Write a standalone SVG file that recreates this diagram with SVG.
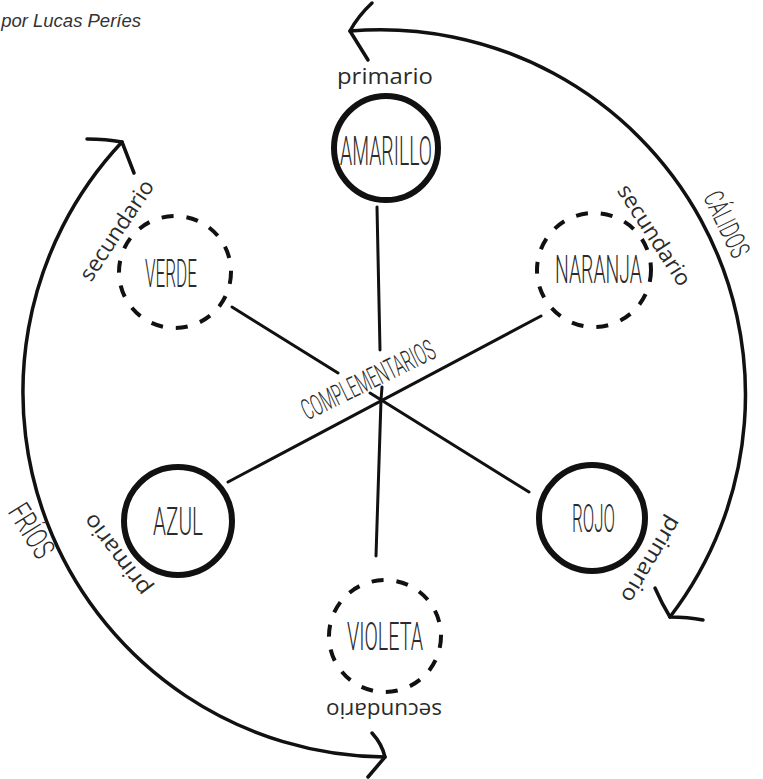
<svg xmlns="http://www.w3.org/2000/svg" width="763" height="779" viewBox="0 0 763 779">
<style>
.solid{fill:none;stroke:#111;stroke-width:6}
.dashed{fill:none;stroke:#111;stroke-width:4;stroke-dasharray:12 13}
.name{font-family:Roboto,"Liberation Sans",sans-serif;font-weight:300;font-size:38px;fill:#2b2b2b}
.lab{font-family:"Open Sans","Liberation Sans",sans-serif;font-size:22px;fill:#2b2b2b}
.ln{fill:none;stroke:#111;stroke-width:3;stroke-linecap:round;stroke-linejoin:round}
.arc{fill:none;stroke:#111;stroke-width:3.5;stroke-linecap:round;stroke-linejoin:round}
.credit{font-family:"Liberation Sans",Arial,sans-serif;font-style:italic;font-size:18.5px;fill:#333}
</style>
<rect width="763" height="779" fill="#fff"/>
<text class="credit" x="141" y="27" text-anchor="end">por Lucas Períes</text>

<g id="connectors">
  <path class="ln" d="M377 207 L380 350"/>
  <path class="ln" d="M382 387 L381 400 L376 556"/>
  <path class="ln" d="M232 307 L338 373"/>
  <path class="ln" d="M370 393 L529 492"/>
  <path class="ln" d="M541 316 L228 482"/>
  <path class="arc" d="M350 31 A365 365 0 0 1 670 617"/>
  <path class="arc" d="M372 3 Q358 16 350 31 L368 60"/>
  <path class="arc" d="M655 588 Q662 604 670 617 Q688 617 703 620"/>
  <path class="arc" d="M122 142 A365 365 0 0 0 385 757"/>
  <path class="arc" d="M87 139 Q106 139 122 142 L134 173"/>
  <path class="arc" d="M372 733 Q382 744 385 757 L368 777"/>
  <text class="name" style="font-size:28px" transform="translate(727,224) rotate(64)" x="-35" y="10" textLength="70" lengthAdjust="spacingAndGlyphs">CÁLIDOS</text>
  <text class="name" style="font-size:31px" transform="translate(31,531) rotate(58)" x="-29" y="10" textLength="58" lengthAdjust="spacingAndGlyphs">FRÍOS</text>
  <text class="name" style="font-size:29px" transform="translate(372,389) rotate(-26)" x="-72" y="0" textLength="145" lengthAdjust="spacingAndGlyphs">COMPLEMENTARIOS</text>
</g>

<g id="node-amarillo">
  <circle class="solid" cx="386" cy="148" r="52"/>
  <text class="name" style="font-size:41px" x="340" y="165" textLength="92" lengthAdjust="spacingAndGlyphs">AMARILLO</text>
  <text class="lab" transform="translate(385,78)" x="-48" y="6" textLength="96" lengthAdjust="spacingAndGlyphs">primario</text>
</g>
<g id="node-verde">
  <circle class="dashed" cx="175" cy="272" r="56"/>
  <text class="name" x="145" y="287" textLength="52" lengthAdjust="spacingAndGlyphs">VERDE</text>
  <text class="lab" transform="translate(118,231) rotate(-56.5)" x="-58" y="6" textLength="116" lengthAdjust="spacingAndGlyphs">secundario</text>
</g>
<g id="node-naranja">
  <circle class="dashed" cx="594" cy="270" r="57"/>
  <text class="name" x="555" y="283" textLength="87" lengthAdjust="spacingAndGlyphs">NARANJA</text>
  <text class="lab" transform="translate(653,236) rotate(57)" x="-58" y="6" textLength="116" lengthAdjust="spacingAndGlyphs">secundario</text>
</g>
<g id="node-azul">
  <circle class="solid" cx="178" cy="521" r="54"/>
  <text class="name" x="153" y="535" textLength="50" lengthAdjust="spacingAndGlyphs">AZUL</text>
  <text class="lab" transform="translate(118,554) rotate(-127)" x="-48" y="6" textLength="96" lengthAdjust="spacingAndGlyphs">primario</text>
</g>
<g id="node-rojo">
  <circle class="solid" cx="592" cy="518" r="53"/>
  <text class="name" x="572" y="532" textLength="43" lengthAdjust="spacingAndGlyphs">ROJO</text>
  <text class="lab" transform="translate(650,559) rotate(121)" x="-48" y="6" textLength="96" lengthAdjust="spacingAndGlyphs">primario</text>
</g>
<g id="node-violeta">
  <circle class="dashed" cx="385" cy="636" r="56"/>
  <text class="name" x="347" y="650" textLength="76" lengthAdjust="spacingAndGlyphs">VIOLETA</text>
  <text class="lab" transform="translate(384,709) rotate(180)" x="-58" y="6" textLength="116" lengthAdjust="spacingAndGlyphs">secundario</text>
</g>
</svg>
